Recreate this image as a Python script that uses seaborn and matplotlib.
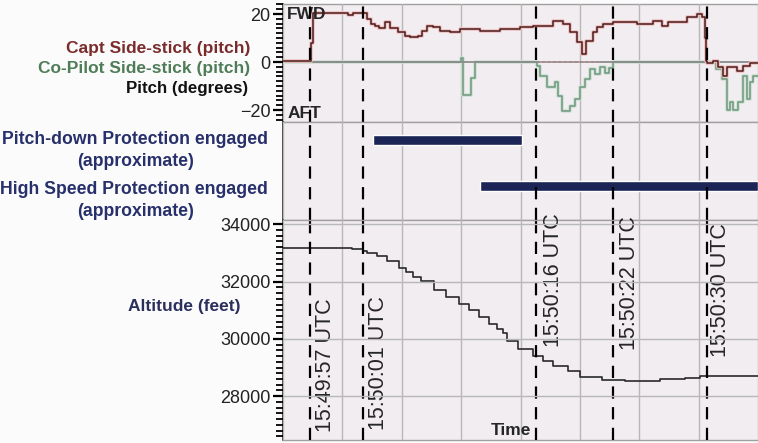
import matplotlib
matplotlib.use("Agg")
import matplotlib.pyplot as plt
import matplotlib.transforms as mtransforms
from matplotlib.ticker import MultipleLocator, FixedLocator
import seaborn as sns

# time axis: seconds from left edge of the window (grid every 5 s)
capt_t = [0, 2.36, 2.53, 5.47, 5.89, 7.07, 7.41, 7.75, 8.08, 8.59, 9.01, 9.68, 10.27,
          10.69, 11.37, 11.71, 12.13, 12.63, 13.22, 14.06, 14.91, 16.59, 18.27, 19.96,
          21.05, 22.74, 23.58, 24.17, 24.76, 25.18, 25.52, 26.11, 26.44, 26.95, 27.79,
          29.81, 31.16, 31.92, 32.42, 34.02, 34.86, 35.28, 35.54, 35.62, 35.71, 36.21,
          36.63, 37.05, 37.39, 38.23, 38.74, 39.33, 40]
capt_pitch = [0.5, 8, 20.4, 19.6, 20.4, 18, 16, 15, 14, 16.7, 14.4, 12.5, 11,
              10.3, 11, 13, 15, 14.5, 13, 12.4, 13.75, 13, 13.75, 14.5,
              15.1, 17.2, 16, 12.4, 8.3, 3.3, 8.9, 12.4, 14.5, 15.8, 16.8,
              15.8, 17.2, 15.1, 16.8, 18.6, 20, 18.6, 10, 0.4, -0.5, 0.4,
              -2.2, -5.7, -2.2, -3.6, -1.5, -0.5, -0.5]

copilot_t = [0, 14.99, 15.16, 15.83, 16.17, 21.39, 21.64, 22.23, 22.91, 23.16, 23.49,
             24.17, 24.59, 25.01, 25.43, 25.85, 26.27, 26.69, 27.12, 27.45, 27.79,
             36.46, 36.97, 37.39, 37.64, 37.89, 38.32, 38.74, 39.07, 39.33, 39.58, 40]
copilot_pitch = [0, 1.5, -13.7, -6.7, 0, -1.5, -5.7, -10.5, -8.5, -14, -20.3,
                 -18.2, -15.4, -10.5, -7, -3, -5, -2, -4.5, -2.5, 0,
                 -3, -7, -20, -16.8, -20, -16.8, -5.7, -15.4, -8.5, -6, -6]
dual_input_span = [21.6, 26.7]

alt_t = [0, 5.81, 6.74, 7.07, 7.92, 8.76, 9.77, 10.36, 10.95, 11.62, 12.72, 13.73,
         14.82, 15.66, 16.51, 17.35, 18.02, 18.53, 18.86, 19.79, 21.05, 21.89, 22.74,
         24.0, 25.01, 26.86, 28.8, 31.75, 33.85, 35.12, 40]
alt_ft = [33180, 33140, 33060, 33000, 32880, 32705, 32470, 32350, 32175, 32030, 31705,
          31470, 31235, 31000, 30765, 30530, 30360, 30190, 29940, 29645, 29410, 29235,
          29060, 28880, 28670, 28550, 28530, 28590, 28645, 28705, 28705]

event_t = [2.27, 6.7, 21.3, 27.8, 35.7]
event_labels = ["15:49:57 UTC", "15:50:01 UTC", "15:50:16 UTC", "15:50:22 UTC", "15:50:30 UTC"]

prot_names = ["Pitch-down Protection engaged", "High Speed Protection engaged"]
prot_start = [7.58, 16.59]
prot_end = [20.13, 40.0]

sns.set_style("ticks")
plt.rcParams['font.family'] = ['Liberation Sans', 'DejaVu Sans']

W, H = 758, 443
fig = plt.figure(figsize=(W / 100, H / 100), dpi=100, facecolor="#fbfbfb")
left = 283 / W
width = (758 - 283) / W

def panel(top_px, bot_px):
    return fig.add_axes([left, 1 - bot_px / H, width, (bot_px - top_px) / H])

ax_p = panel(4, 122)
ax_m = panel(122, 220)
ax_a = panel(220, 440)

bg = "#f1edf1"
grid_c = "#b8b8b8"
for ax in (ax_p, ax_m, ax_a):
    ax.set_facecolor(bg)
    ax.set_axisbelow(False)
    for s in ax.spines.values():
        s.set_color("#a0a0a0")
        s.set_linewidth(1)
    ax.spines["left"].set_color("#333333")
    ax.spines["left"].set_linewidth(1.2)
    ax.spines["right"].set_visible(False)

# pitch panel
sns.lineplot(x=copilot_t, y=copilot_pitch, ax=ax_p, drawstyle="steps-post",
             estimator=None, sort=False, color="#cfe0d3", lw=2.6, zorder=3)
sns.lineplot(x=copilot_t, y=copilot_pitch, ax=ax_p, drawstyle="steps-post",
             estimator=None, sort=False, color="#6f9880", lw=1.1, zorder=3)
ax_p.axhline(0, color="#8c8c8c", lw=1.3, zorder=3.5)
ax_p.hlines(0, dual_input_span[0], dual_input_span[1], colors="#d49090",
            linestyles=(0, (1, 2)), lw=1.3, zorder=4)
sns.lineplot(x=capt_t, y=capt_pitch, ax=ax_p, drawstyle="steps-post",
             estimator=None, sort=False, color="#f0c0c0", lw=2.6, zorder=4)
sns.lineplot(x=capt_t, y=capt_pitch, ax=ax_p, drawstyle="steps-post",
             estimator=None, sort=False, color="#4a1c1c", lw=1.1, zorder=5)
ax_p.set_ylim(-25, 24.2)
ax_p.yaxis.set_major_locator(FixedLocator([-20, 0, 20]))
ax_p.yaxis.set_minor_locator(MultipleLocator(2))
ax_p.text(0.35, 20, "FWD", fontsize=12.5, fontweight="bold", va="center", zorder=6)
ax_p.text(0.35, -21.5, "AFT", fontsize=12.5, fontweight="bold", va="center", zorder=6)
ax_p.set_ylabel("")

# protection panel
ax_m.set_ylim(0, 1)
ax_m.yaxis.set_major_locator(FixedLocator([]))
bar_y = [0.816, 0.347]
ax_m.barh(bar_y, [e - s for s, e in zip(prot_start, prot_end)], left=prot_start,
          height=0.11, color="#1b2556", zorder=3)

# altitude panel
sns.lineplot(x=alt_t, y=alt_ft, ax=ax_a, drawstyle="steps-post",
             estimator=None, sort=False, color="#2a2a2a", lw=1.2, zorder=4)
ax_a.set_ylim(26470, 34150)
ax_a.yaxis.set_major_locator(FixedLocator([28000, 30000, 32000, 34000]))
ax_a.yaxis.set_minor_locator(MultipleLocator(200))
ax_a.grid(axis="y", color=grid_c, lw=1)
ax_a.set_ylabel("")

# shared x grid, ruler ticks on the y axes
for ax in (ax_p, ax_m, ax_a):
    ax.set_xlim(0, 40)
    ax.xaxis.set_major_locator(MultipleLocator(5))
    ax.grid(axis="x", color=grid_c, lw=1)
    ax.tick_params(axis="x", which="both", bottom=False, top=False, labelbottom=False)
    ax.tick_params(axis="y", which="major", left=True, right=False, direction="out",
                   length=7, width=1.6, color="black", labelcolor="#222222",
                   labelsize=13, pad=2)
    ax.tick_params(axis="y", which="minor", left=True, right=False, direction="out",
                   length=5, width=1.3, color="black")
    ax.yaxis.set_zorder(10)
ax_m.tick_params(axis="y", which="both", left=False)

# event markers
for ax in (ax_p, ax_m, ax_a):
    for t in event_t:
        ax.axvline(t, color="black", lw=1.6, dashes=(5.5, 3.8), zorder=6)

trans = mtransforms.blended_transform_factory(ax_a.transData, ax_a.transAxes)
label_dx = [1.3, 1.3, 1.45, 1.35, 1.1]
label_y = [0.34, 0.35, 0.725, 0.715, 0.68]
for t, lab, dx, yy in zip(event_t, event_labels, label_dx, label_y):
    ax_a.text(t + dx, yy, lab, transform=trans, rotation=90, fontsize=15.5,
              ha="center", va="center", zorder=7)
ax_a.text(20.9, 0.045, "Time", transform=trans, fontsize=12.5, fontweight="bold",
          ha="right", va="center", zorder=7)

# left-hand labels
def ftext(x_px, y_px, s, **kw):
    fig.text(x_px / W, 1 - y_px / H, s, va="center", **kw)

ftext(250, 48, "Capt Side-stick (pitch)", ha="right", color="#7a2c2c",
      fontsize=12.5, fontweight="bold")
ftext(250, 69, "Co-Pilot Side-stick (pitch)", ha="right", color="#4f7d58",
      fontsize=12.5, fontweight="bold")
ftext(248, 89, "Pitch (degrees)", ha="right", color="#111111",
      fontsize=12.2, fontweight="bold")
ftext(268, 140, prot_names[0], ha="right", color="#27306b",
      fontsize=12.7, fontweight="bold")
ftext(136, 162, "(approximate)", ha="center", color="#27306b",
      fontsize=12.7, fontweight="bold")
ftext(268, 189, prot_names[1], ha="right", color="#27306b",
      fontsize=12.7, fontweight="bold")
ftext(136, 212, "(approximate)", ha="center", color="#27306b",
      fontsize=12.7, fontweight="bold")
ftext(240, 307, "Altitude (feet)", ha="right", color="#2a2f5c",
      fontsize=12.5, fontweight="bold")

fig.savefig("out.png", dpi=100, facecolor=fig.get_facecolor())
